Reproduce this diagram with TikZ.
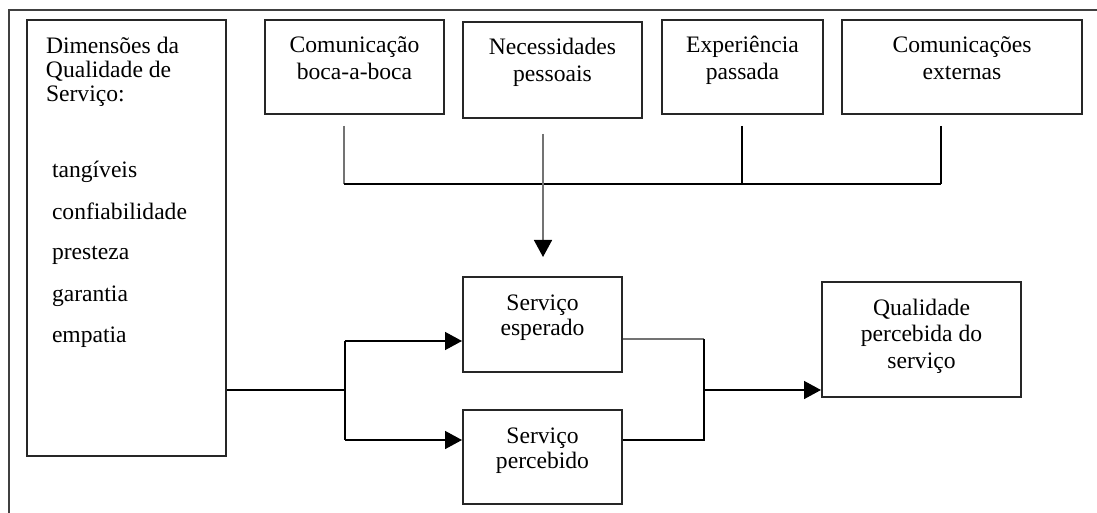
\documentclass[tikz,border=0pt]{standalone}
\usepackage{fontspec}
\setmainfont{Liberation Serif}
\usetikzlibrary{arrows.meta}
\newcommand{\caixa}[3]{\parbox[c][#2][t]{#1}{\centering\rule{0pt}{16.5pt}#3}}

\begin{document}
\begin{tikzpicture}[x=0.5pt, y=-0.5pt,
  caixa/.style={draw=black!85, line width=1pt, inner sep=0pt, font=\fontsize{11.8pt}{13.25pt}\selectfont},
  liga/.style={line width=0.75pt},
  ligaclara/.style={line width=0.75pt, draw=black!55},
  seta/.style={line width=0.75pt, -{Triangle[length=8.5pt,width=9pt,color=black]}}]
\useasboundingbox (0,0) rectangle (1097,513);
\fill[white] (0,0) rectangle (1097,513);
\draw[line width=1pt, black!75] (1097,10) -- (9,10) -- (9,513);

\node[caixa, font=\fontsize{11.8pt}{12.25pt}\selectfont] (dims) at (126.5,238) {\parbox[c][218pt][t]{99.5pt}{\raggedright\leftskip=9.5pt
  \rule{0pt}{16.5pt}Dimensões da\\Qualidade de\\Serviço:\\[25.75pt]
  \hspace*{3pt}tangíveis\\[8.25pt]
  \hspace*{3pt}confiabilidade\\[8.25pt]
  \hspace*{3pt}presteza\\[8.25pt]
  \hspace*{3pt}garantia\\[8.25pt]
  \hspace*{3pt}empatia}};

\node[caixa] (com) at (354.5,67) {\caixa{89.5pt}{47pt}{Comunicação\\boca-a-boca}};
\node[caixa] (nec) at (552.5,70) {\caixa{89.5pt}{48pt}{Necessidades\\pessoais}};
\node[caixa] (exp) at (742.5,67) {\caixa{80.5pt}{47pt}{Experiência\\passada}};
\node[caixa] (ext) at (962,67) {\caixa{120pt}{47pt}{Comunicações\\externas}};

\node[caixa, font=\fontsize{11.8pt}{12.5pt}\selectfont] (esp) at (542.5,324.5) {\caixa{79.5pt}{47.5pt}{Serviço\\esperado}};
\node[caixa, font=\fontsize{11.8pt}{12.5pt}\selectfont] (perc) at (542.5,457) {\caixa{79.5pt}{47pt}{Serviço\\percebido}};
\node[caixa] (qual) at (921.5,339.5) {\caixa{99.5pt}{57.5pt}{Qualidade\\percebida do\\serviço}};

\coordinate (b1) at (344,184);
\coordinate (b2) at (543,184);
\coordinate (b3) at (742,184);
\coordinate (b4) at (941,184);

\draw[ligaclara, shorten <=5.5pt] (com.south -| b1) -- (b1);
\draw[liga, shorten <=5.5pt] (exp.south -| b3) -- (b3);
\draw[liga, shorten <=5.5pt] (ext.south -| b4) -- (b4);
\draw[liga] (b1) -- (b4);
\draw[ligaclara, seta, shorten <=7.5pt, shorten >=9.5pt] (nec.south -| b2) -- (esp.north -| b2);

\coordinate (e0) at (345,390);
\coordinate (e1) at (345,341);
\coordinate (e2) at (345,440);
\draw[liga] (dims.east |- e0) -- (e0);
\draw[liga] (e1) -- (e2);
\draw[seta] (e1) -- (e1 -| esp.west);
\draw[seta] (e2) -- (e2 -| perc.west);

\coordinate (d0) at (704,390);
\coordinate (d1) at (704,339);
\coordinate (d2) at (704,440);
\draw[ligaclara] (esp.east |- d1) -- (d1);
\draw[liga] (d1) -- (d2) -- (perc.east |- d2);
\draw[seta] (d0) -- (d0 -| qual.west);

\end{tikzpicture}
\end{document}
